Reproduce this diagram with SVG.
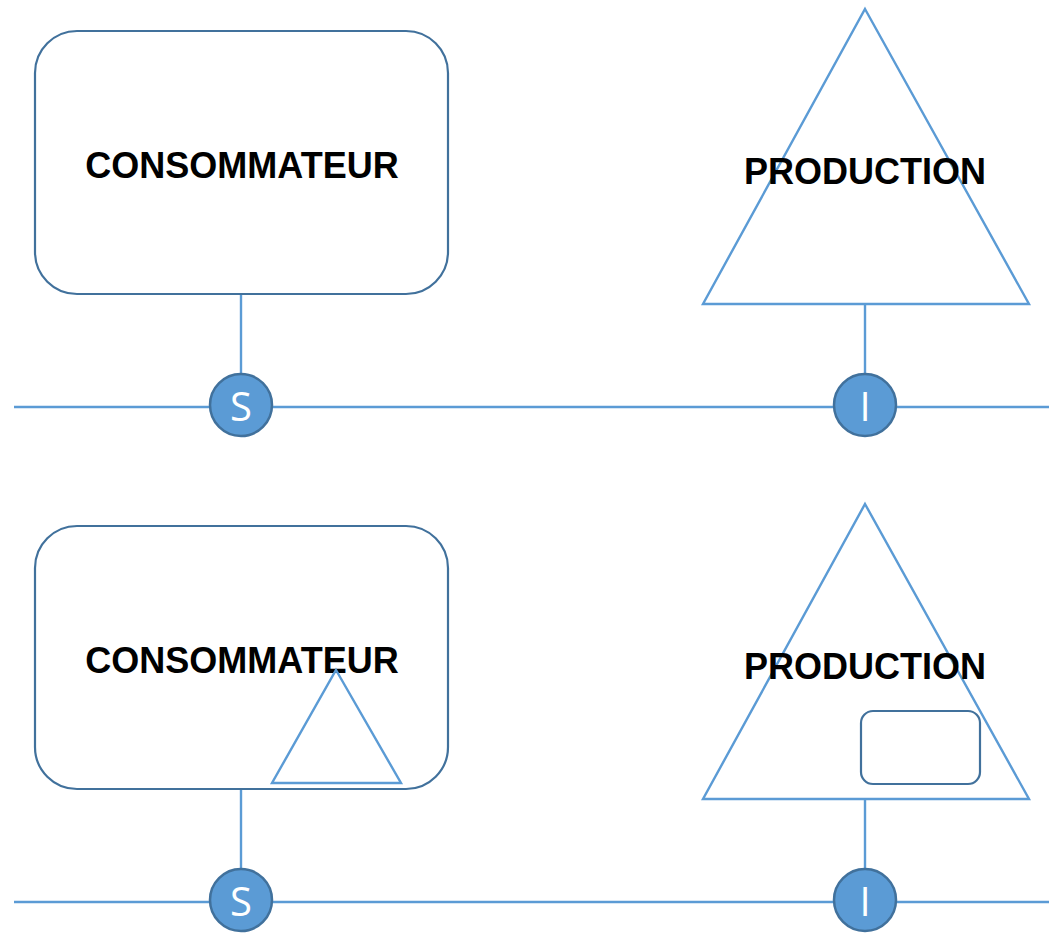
<svg xmlns="http://www.w3.org/2000/svg" width="1049" height="933" viewBox="0 0 1049 933">
<style>
.bg{fill:#ffffff}
.box{fill:#ffffff;stroke:#41719C;stroke-width:2.2}
.tri{fill:#ffffff;stroke:#5B9BD5;stroke-width:2.4;stroke-linejoin:miter}
.tri2{fill:none;stroke:#5B9BD5;stroke-width:2.4}
.wire{stroke:#5B9BD5;stroke-width:2.4;fill:none}
.port{fill:#5B9BD5;stroke:#41719C;stroke-width:2.5}
.lbl{font-family:"Liberation Sans",Arial,sans-serif;font-weight:bold;font-size:36px;fill:#000000;text-anchor:middle}
.plbl{font-family:"Open Sans","Liberation Sans",sans-serif;font-size:40px;fill:#ffffff;text-anchor:middle}
</style>
<rect class="bg" x="0" y="0" width="1049" height="933"/>
<g id="connectors">
<line class="wire" x1="14" y1="407" x2="1049" y2="407"/>
<line class="wire" x1="241" y1="294" x2="241" y2="374"/>
<line class="wire" x1="865" y1="304" x2="865" y2="374"/>
<line class="wire" x1="14" y1="902" x2="1049" y2="902"/>
<line class="wire" x1="241" y1="789" x2="241" y2="869"/>
<line class="wire" x1="865" y1="799" x2="865" y2="869"/>
</g>
<g id="consommateur1">
<rect class="box" x="35" y="31" width="413" height="263" rx="42" ry="42"/>
<text class="lbl" x="242" y="178">CONSOMMATEUR</text>
</g>
<g id="production1">
<polygon class="tri" points="865,9 1029,304 703,304"/>
<text class="lbl" x="865" y="184">PRODUCTION</text>
</g>
<g id="portS1">
<circle class="port" cx="241" cy="405" r="31"/>
<text class="plbl" x="241" y="421">S</text>
</g>
<g id="portI1">
<circle class="port" cx="865" cy="405" r="31"/>
<text class="plbl" x="865" y="421">I</text>
</g>
<g id="consommateur2">
<rect class="box" x="35" y="526" width="413" height="263" rx="42" ry="42"/>
<text class="lbl" x="242" y="673">CONSOMMATEUR</text>
<polygon class="tri2" points="336,670 401,783 272,783"/>
</g>
<g id="production2">
<polygon class="tri" points="865,504 1029,799 703,799"/>
<text class="lbl" x="865" y="679">PRODUCTION</text>
<rect class="box" x="861" y="711" width="119" height="73" rx="12" ry="12"/>
</g>
<g id="portS2">
<circle class="port" cx="241" cy="900" r="31"/>
<text class="plbl" x="241" y="916">S</text>
</g>
<g id="portI2">
<circle class="port" cx="865" cy="900" r="31"/>
<text class="plbl" x="865" y="916">I</text>
</g>
</svg>
